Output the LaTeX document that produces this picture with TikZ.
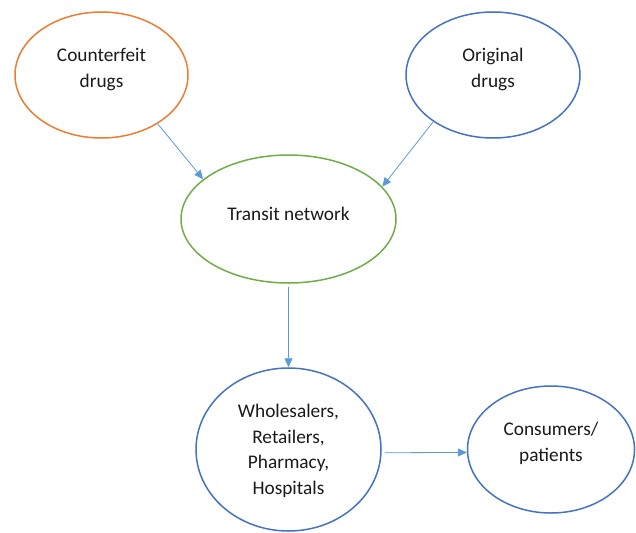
\documentclass[tikz,border=0pt]{standalone}
\usepackage{fontspec}
\setmainfont{Carlito}
\usetikzlibrary{arrows.meta,shapes.geometric}
\definecolor{cOrange}{HTML}{ED7D31}
\definecolor{cBlue}{HTML}{4472C4}
\definecolor{cGreen}{HTML}{70AD47}
\definecolor{cArrow}{HTML}{5B9BD5}
\definecolor{cText}{HTML}{1A1A1A}
\begin{document}
\begin{tikzpicture}[x=1pt,y=-1pt,
  ell/.style={ellipse,draw,line width=1.5pt,inner sep=0pt},
  txt/.style={align=center,font=\fontsize{19.3}{25.5}\selectfont,text=cText,inner sep=0pt},
  conn/.style={draw=cArrow,line width=0.8pt,-{Triangle[length=9pt,width=8pt,fill=cArrow]}}]
\useasboundingbox (0,0) rectangle (636,532);
\node[ell,draw=cOrange,minimum width=173pt,minimum height=126pt] (cf) at (101.5,75) {};
\node[txt] (cft) at (101.5,69.5) {Counterfeit\\drugs};
\node[ell,draw=cBlue,minimum width=174pt,minimum height=126pt] (od) at (493,75) {};
\node[txt] (odt) at (493,69.5) {Original\\drugs};
\node[ell,draw=cGreen,minimum width=215pt,minimum height=128pt] (tn) at (288.5,219) {};
\node[txt] (tnt) at (288.5,213.5) {Transit network};
\node[ell,draw=cBlue,minimum width=185pt,minimum height=163pt] (wh) at (288.5,449.5) {};
\node[txt] (wht) at (288.5,451) {Wholesalers,\\Retailers,\\Pharmacy,\\Hospitals};
\node[ell,draw=cBlue,minimum width=167pt,minimum height=127pt] (cs) at (551,449.5) {};
\node[txt] (cst) at (551,443.5) {Consumers/\\patients};
\draw[conn] (cf.-41.5) -- (tn.155);
\draw[conn] (od.218) -- (tn.19.4);
\draw[conn,shorten <=3pt] (tn.south) -- (wh.north);
\draw[conn,shorten <=3pt] (wh.-2.5) -- (cs.182);
\end{tikzpicture}
\end{document}
